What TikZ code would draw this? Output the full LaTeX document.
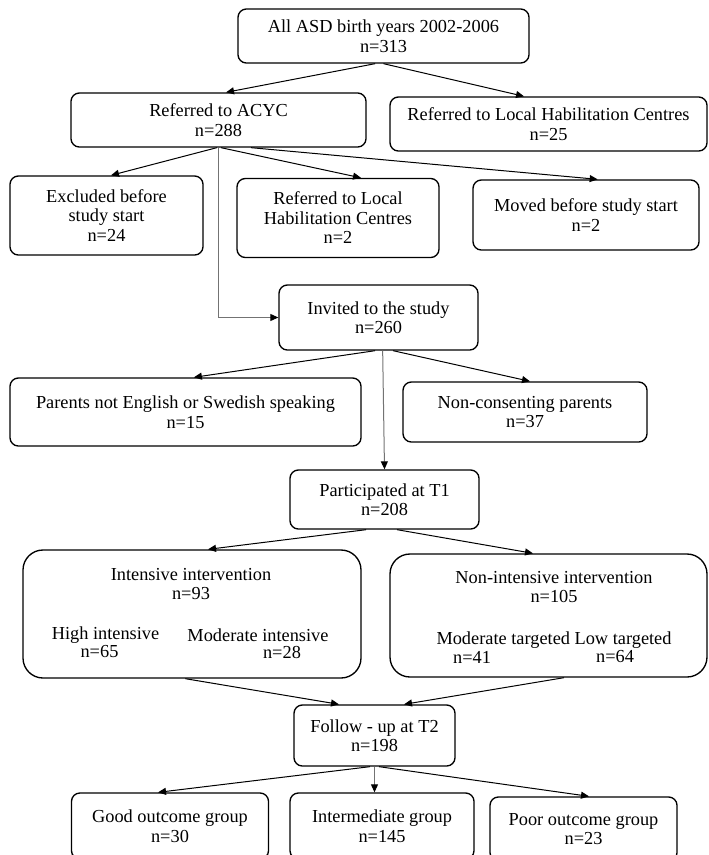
\documentclass[tikz,border=0pt]{standalone}
\usepackage{fontspec}
\setmainfont{Liberation Serif}
\usepackage{tikz}
\usetikzlibrary{arrows.meta, calc}

\begin{document}
\begin{tikzpicture}[
  x=0.6pt, y=-0.6pt,
  box/.style={draw, rounded corners=5pt, line width=0.8pt, align=center, inner sep=2pt, font=\fontsize{11}{11.7}\selectfont},
  bigbox/.style={box, rounded corners=12pt},
  sz/.style 2 args={minimum width=#1*0.6pt, minimum height=#2*0.6pt},
  txt/.style={inner sep=0pt, align=center, font=\fontsize{11}{11.7}\selectfont},
  arr/.style={-{Triangle[length=4.8pt, width=4.2pt]}, line width=0.6pt},
  link/.style={-{Triangle[length=4.8pt, width=4.2pt, color=black]}, line width=0.6pt, draw=black!55}
]
\useasboundingbox (0,0) rectangle (708,855);
\clip (0,0) rectangle (708,855);

\node[box, sz={291}{54}] (all) at (383.5,36) {All ASD birth years 2002-2006\\ n=313};
\node[box, sz={295}{54}] (acyc) at (218.5,120) {Referred to ACYC\\ n=288};
\node[box, sz={317}{54}] (local) at (548.5,124) {Referred to Local Habilitation Centres\\ n=25};
\node[box, sz={193}{79}] (excl) at (106.5,215.5) {Excluded before\\ study start\\ n=24};
\node[box, sz={202}{79}] (localb) at (338,218) {Referred to Local\\ Habilitation Centres\\ n=2};
\node[box, sz={226}{70}] (moved) at (586,215) {Moved before study start\\ n=2};
\node[box, sz={199}{65}] (invited) at (378.5,317.5) {Invited to the study\\ n=260};
\node[box, sz={351}{68}] (lang) at (185.5,412) {Parents not English or Swedish speaking\\ n=15};
\node[box, sz={244}{60}] (noncons) at (525,412) {Non-consenting parents\\ n=37};
\node[box, sz={189}{59}] (t1) at (384.5,499.5) {Participated at T1\\ n=208};

\node[bigbox, sz={338}{128}] (intens) at (192,614) {};
\node[txt] (intT) at (191,584) {Intensive intervention\\ n=93};
\node[txt] (hi) at (105.5,635) {High intensive};
\node[txt] (hiN) at (99.5,652) {n=65};
\node[txt] (mi) at (258,635) {Moderate intensive};
\node[txt] (miN) at (282,652) {n=28};

\node[bigbox, sz={317}{123}] (nonint) at (548.5,615.5) {};
\node[txt] (nonT) at (554,587) {Non-intensive intervention\\ n=105};
\node[txt] (tg) at (554,640) {Moderate targeted Low targeted};
\node[txt] (mtN) at (472,657) {n=41};
\node[txt] (ltN) at (615,657) {n=64};

\node[box, sz={161}{61}] (t2) at (374.5,735.5) {Follow - up at T2\\ n=198};
\node[box, sz={197}{66}] (good) at (170,826) {Good outcome group\\ n=30};
\node[box, sz={184}{66}] (interm) at (382,826) {Intermediate group\\ n=145};
\node[box, sz={187}{64}] (poor) at (583.5,829) {Poor outcome group\\ n=23};

\draw[arr] ([xshift=-5pt]all.south) -- ([xshift=4.5pt]acyc.north);
\draw[arr] (all.south) -- ([xshift=-14.7pt]local.north);
\draw[arr] ([xshift=-1pt]acyc.south) -- ([xshift=2.7pt]excl.north);
\draw[arr] ([xshift=1.5pt]acyc.south) -- ([xshift=13.8pt]localb.north);
\draw[arr] ([xshift=19.5pt]acyc.south) -- ([xshift=7pt]moved.north);
\draw[link] (acyc.south) |- (invited.west);

\draw[arr] ([xshift=-2pt]invited.south) -- ([xshift=5pt]lang.north);
\draw[link] ([xshift=2.5pt]invited.south) -- (t1.north);
\draw[arr] ([xshift=8.7pt]invited.south) -- ([xshift=3pt]noncons.north);

\draw[arr] ([xshift=-11pt]t1.south) -- ([xshift=9.6pt]intens.north);
\draw[arr] ([xshift=7.5pt]t1.south) -- ([xshift=-9.3pt]nonint.north);
\draw[arr] ([xshift=-4pt]intens.south) -- ([xshift=-21.3pt]t2.north);
\draw[arr] ([xshift=9.3pt]nonint.south) -- ([xshift=17.7pt]t2.north);

\draw[arr] ([xshift=-2.7pt]t2.south) -- ([xshift=-7.2pt]good.north);
\draw[link] (t2.south) -- (t2.south |- interm.north);
\draw[arr] ([xshift=2.7pt]t2.south) -- ([xshift=3.3pt]poor.north);
\end{tikzpicture}
\end{document}
